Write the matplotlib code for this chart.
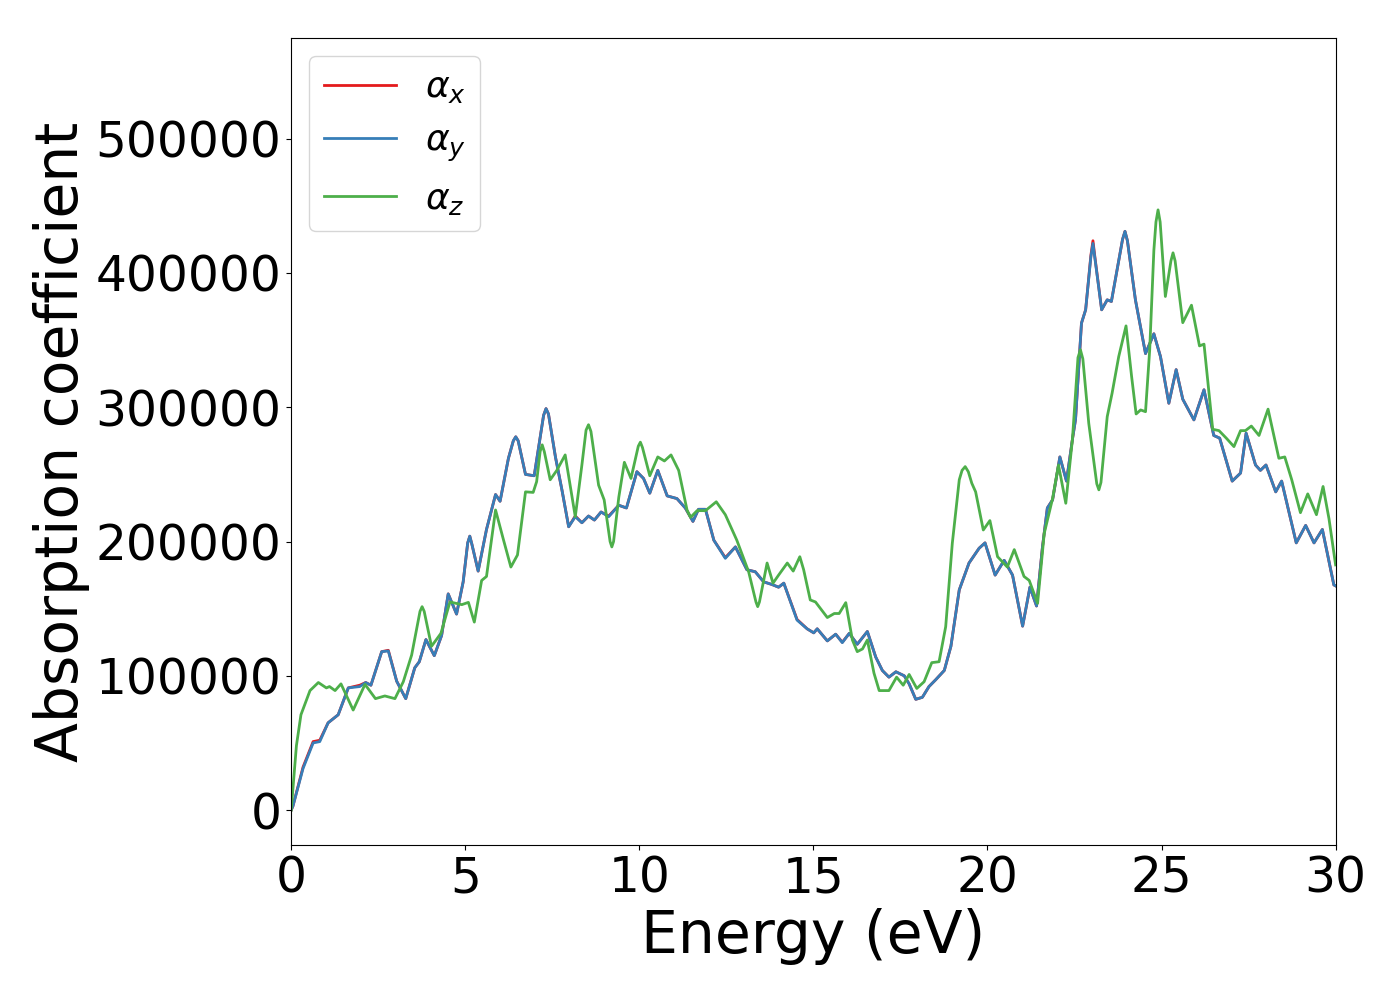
import numpy as np
import matplotlib
matplotlib.use("Agg")
import matplotlib.pyplot as plt

# energies (eV) and absorption (values in 1e3)
energy_xy = [0.0, 0.05, 0.34, 0.63, 0.82, 1.06, 1.35, 1.64, 1.97, 2.14, 2.29, 2.6,
             2.79, 3.03, 3.29, 3.55, 3.68, 3.87, 4.11, 4.32, 4.51, 4.75, 4.94, 5.07,
             5.13, 5.19, 5.37, 5.61, 5.87, 6.0, 6.24, 6.38, 6.45, 6.52, 6.73, 6.98,
             7.25, 7.32, 7.39, 7.44, 7.59, 7.78,
             7.97, 8.16, 8.35, 8.54, 8.71, 8.9, 9.12, 9.41, 9.63, 9.93, 10.12, 10.3,
             10.53, 10.8, 11.08, 11.32, 11.54, 11.7, 11.9, 12.14, 12.47, 12.76, 13.09,
             13.33, 13.57, 13.81, 14.0, 14.15, 14.53, 14.82, 15.01, 15.11, 15.4, 15.64,
             15.83, 16.03, 16.26, 16.55, 16.79, 16.98, 17.17, 17.37, 17.61, 17.75,
             17.94, 18.13, 18.32, 18.51, 18.76, 18.95, 19.19, 19.47, 19.76, 19.93,
             20.22, 20.48, 20.72, 21.01, 21.22, 21.41, 21.58, 21.72, 21.87, 22.08,
             22.27, 22.44, 22.53, 22.7, 22.82, 22.97, 23.03, 23.09, 23.28, 23.44,
             23.56, 23.88, 23.95, 24.02,
             24.25, 24.54, 24.78, 24.97, 25.21, 25.42, 25.61, 25.93, 26.22, 26.5,
             26.67, 27.03, 27.27, 27.43, 27.7, 27.84, 28.0, 28.28, 28.45, 28.87,
             29.14, 29.38, 29.62, 29.95, 30.0]
alpha_y = [0, 3, 31, 50, 51, 65, 71, 91, 92, 95, 93, 118,
           118.5, 96, 83, 106, 110.5, 127, 115, 130, 161, 146, 170, 199,
           204, 198, 178, 209, 235, 230, 262, 275, 278, 275, 250, 249,
           294, 299, 295, 287, 263, 238,
           211, 218.5, 214, 219, 216, 222, 218.5, 227, 225, 252, 247, 236,
           253, 234, 232, 225, 215, 224, 224, 201, 187.5, 196, 179,
           177.5, 170, 168, 166, 169, 141.5, 135, 132, 135, 126, 131,
           124.7, 131.6, 123.5, 133, 114, 104, 99, 103, 100, 94,
           82.5, 84, 92, 97, 104, 122, 164, 184, 195, 199,
           175, 186, 175, 137, 166, 152, 196, 225, 231, 263,
           245, 276, 291, 362.6, 372.6, 412, 422, 410, 372.6, 380,
           378.8, 425, 431, 424,
           380, 340, 354.7, 337.7, 303, 328, 306, 290.6, 313, 279,
           277, 245, 251, 280.7, 257, 253, 257, 237, 245, 199,
           212, 199, 209, 167.7, 167]
alpha_x = [0, 3, 32, 51, 52, 65, 71, 91, 93, 95, 93, 118,
           119, 96, 83, 106, 110.5, 127, 115, 130, 161, 146, 170, 199,
           204, 198, 178, 209, 235, 230, 262, 275, 278, 275, 250, 249,
           294, 299, 295, 287, 263, 238,
           211, 219, 214, 219, 216, 222, 219, 227, 225, 252, 247, 236,
           253, 234, 232, 225, 215, 224, 224, 201, 188, 196, 179,
           177.5, 170, 168, 166, 169, 142, 135, 132, 135, 126, 131,
           125, 131.6, 123.5, 133, 114, 104, 99, 103, 100, 94,
           82.5, 84, 92, 97, 104, 122, 164, 184, 195, 199,
           175, 186, 175, 137, 166, 152, 196, 225, 231, 263,
           245, 276, 291, 362.6, 372.6, 413, 424, 411, 372.6, 380,
           378.8, 425, 431, 424,
           380, 340, 354.7, 337.7, 303, 328, 306, 290.6, 313, 279,
           277, 245, 251, 280.7, 257, 253, 257, 237, 245, 199,
           212, 199, 209, 167.7, 167]

energy_z = [0.0, 0.15, 0.28, 0.54, 0.78, 1.01, 1.1, 1.26, 1.43, 1.78, 2.12, 2.42,
            2.69, 2.98, 3.22, 3.46, 3.70, 3.76, 3.82, 4.03, 4.3, 4.56, 4.9, 5.09,
            5.26, 5.47, 5.61, 5.87, 6.09, 6.31, 6.5, 6.73, 6.95, 7.05, 7.15, 7.21,
            7.27, 7.44, 7.63, 7.87, 8.16, 8.35, 8.47, 8.54, 8.61, 8.83, 8.99, 9.16,
            9.21, 9.26, 9.41, 9.57, 9.76, 9.97, 10.03, 10.09, 10.3, 10.53,
            10.72, 10.91, 11.13, 11.37, 11.47, 11.66, 11.9, 12.21, 12.47, 12.8,
            13.14, 13.35, 13.4, 13.45, 13.67, 13.84, 14.0, 14.25, 14.42, 14.61,
            14.72, 14.91, 15.06, 15.4, 15.6, 15.74, 15.93, 16.12, 16.26, 16.41,
            16.55, 16.74, 16.89, 17.17, 17.39, 17.58, 17.75, 17.97, 18.18, 18.4,
            18.61, 18.8, 18.99, 19.19, 19.27, 19.36, 19.45, 19.55, 19.66, 19.88,
            20.07, 20.29, 20.57, 20.77, 21.05, 21.2, 21.44, 21.63, 21.87, 22.04,
            22.25, 22.44, 22.6, 22.67, 22.74, 22.91, 23.14, 23.2, 23.26, 23.44,
            23.58, 23.77, 23.98, 24.14, 24.27, 24.4, 24.54, 24.66, 24.78, 24.84,
            24.9, 24.96, 25.11, 25.27, 25.33, 25.39, 25.61, 25.86, 26.09, 26.22,
            26.47, 26.65, 26.86, 27.08, 27.27, 27.41, 27.58, 27.8, 28.06, 28.37,
            28.54, 28.74, 28.99, 29.2, 29.45, 29.64, 29.81, 30.0]
alpha_z = [0, 48, 71, 89, 95, 91, 92, 89, 94, 74.5, 93.6, 83,
           85, 83, 95.6, 115.5, 148, 151.5, 148, 122, 131.6, 155, 153, 154.7,
           140, 171, 174, 223.5, 202, 181, 190, 237, 236.6, 244.6, 267, 272,
           267, 246, 253, 264.5, 218.5, 257, 283, 287, 282, 242, 231, 200,
           196, 200, 233, 259, 247, 271, 274, 270, 249, 263,
           260, 264.5, 253, 223.5, 218, 223, 223, 229.6, 220, 201,
           177.5, 155, 151.5, 155, 184, 169, 175, 184, 178, 188.7,
           179, 156.5, 155, 143.4, 146.4, 146.4, 154.5, 126.7, 118, 120,
           126.7, 102, 89, 89, 99, 93, 101, 90.6, 95.6, 109.8,
           110.5, 136.6, 198.7, 246, 253, 255.8, 252, 243.4, 237, 208.6,
           215.6, 188.7, 181, 194, 174, 171, 154, 206, 232, 257,
           228.5, 276, 337, 342.8, 336, 288, 243, 238.5, 244, 293,
           310.5, 337.7, 360.6, 323, 295, 298, 296.7, 342.8, 417, 438,
           447, 438, 382.5, 409, 415, 409, 363, 376, 345.7, 347,
           283.6, 282.6, 277, 270.7, 282.6, 282.6, 286, 279, 298.6, 262,
           263, 246, 221.5, 235.5, 220, 241, 217, 182.6]

fig, ax = plt.subplots(figsize=(14, 10), dpi=100)
ax.plot(energy_xy, np.array(alpha_x) * 1e3, color="#e41a1c", lw=2, label=r"$\alpha_x$")
ax.plot(energy_xy, np.array(alpha_y) * 1e3, color="#377eb8", lw=2, label=r"$\alpha_y$")
ax.plot(energy_z, np.array(alpha_z) * 1e3, color="#4daf4a", lw=2, label=r"$\alpha_z$")

ax.set_xlim(0, 30)
ax.set_ylim(-26000, 575000)
ax.set_xlabel("Energy (eV)", fontsize=42)
ax.set_ylabel("Absorption coefficient", fontsize=42)
ax.tick_params(labelsize=35)
ax.legend(fontsize=26, loc="upper left")

fig.subplots_adjust(left=0.208, right=0.954, bottom=0.155, top=0.962)
fig.savefig("out.png")
